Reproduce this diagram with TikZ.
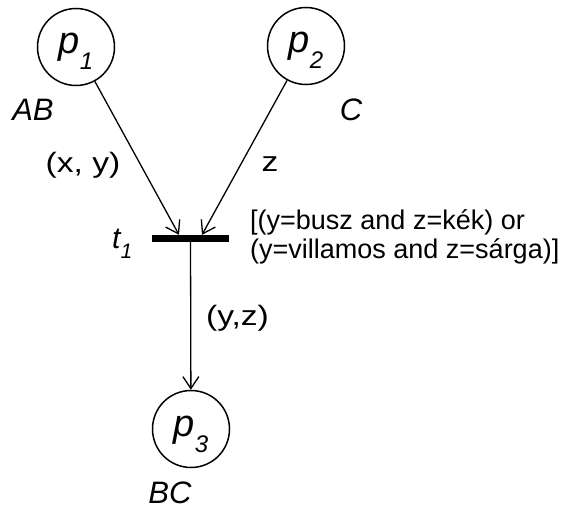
\documentclass[tikz,border=0pt]{standalone}
\usepackage{fontspec}
\usepackage{graphicx}
\setmainfont{Liberation Sans}
\usetikzlibrary{arrows.meta,calc}
\newcommand\plab[2]{\fontsize{38}{38}\selectfont\itshape #1\raisebox{-16pt}{\fontsize{24}{24}\selectfont #2}}
\newcommand\wide[2][1.13]{\scalebox{#1}[1]{#2}}
\begin{document}
\begin{tikzpicture}[x=1pt,y=-1pt,
  place/.style={circle, draw, line width=1.5pt, minimum size=77pt, inner sep=0pt,
    text height=19pt, text depth=5pt},
  bar/.style={fill=black, minimum width=77pt, minimum height=7pt, inner sep=0pt},
  arc/.style={line width=1.3pt, -{Straight Barb[length=12pt,width=16pt]}},
  marking/.style={font=\fontsize{31}{31}\selectfont\itshape, inner sep=0pt},
  inscr/.style={font=\fontsize{28}{28}\selectfont, inner sep=0pt},
  guard/.style={font=\fontsize{27}{29}\selectfont, align=left, inner sep=0pt}]
\useasboundingbox (0,0) rectangle (563,511);
\node[place] (p1) at (76,47) {\plab{p}{1}};
\node[place] (p2) at (306,46) {\plab{p}{2}};
\node[place] (p3) at (191,429) {\plab{p}{3}};
\node[bar] (t1) at (190.5,238.5) {};
\node[marking] (AB) at (33,110) {AB};
\node[marking] (C) at (351,110) {C};
\node[marking] (BC) at (170,493) {BC};
\node[anchor=base west, inner sep=0pt] (t1lab) at (112,248)
  {\fontsize{30}{30}\selectfont\itshape t\raisebox{-10pt}{\fontsize{21}{21}\selectfont 1}};
\node[inscr] (xy) at (83,165) {\wide[1.2]{(x, y)}};
\node[inscr] (z) at (270,164.5) {\wide[1.2]{z}};
\node[inscr] (yz) at (237.5,318) {\wide[1.2]{(y,z)}};
\node[guard, anchor=north west] (g) at (250,209)
  {[(y=busz and z=kék) or\\(y=villamos and z=sárga)]};
\draw[arc] (p1) -- ($(t1.north)+(-11.5,0)$);
\draw[arc] (p2) -- ($(t1.north)+(11.5,0)$);
\draw[arc] (t1) -- (p3);
\end{tikzpicture}
\end{document}
